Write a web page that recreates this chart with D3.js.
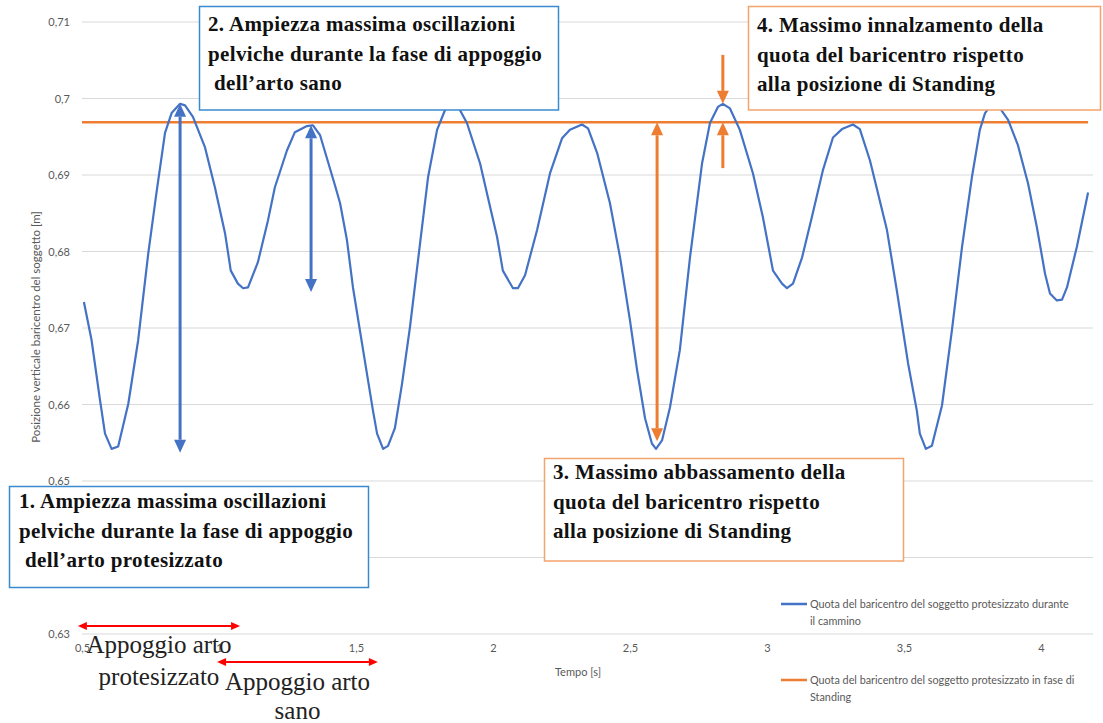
<!DOCTYPE html>
<html>
<head>
<meta charset="utf-8">
<script src="https://cdn.jsdelivr.net/npm/d3@7"></script>
<style>
  html, body { margin: 0; padding: 0; background: #fff; }
  svg { display: block; }
</style>
</head>
<body>
<svg id="chart" width="1103" height="723"></svg>
<script>
// Vertical position of the centre of mass during gait (prosthetic subject)
const times = [
  0.507, 0.535, 0.566, 0.584, 0.608, 0.632, 0.669, 0.705, 0.742, 0.773,
  0.803, 0.827, 0.858, 0.876, 0.905, 0.949, 0.985, 1.022, 1.043, 1.069,
  1.088, 1.106, 1.142, 1.179, 1.204, 1.248, 1.277, 1.321, 1.343, 1.369,
  1.423, 1.442, 1.467, 1.489, 1.526, 1.562, 1.577, 1.599, 1.617, 1.642,
  1.668, 1.697, 1.734, 1.763, 1.796, 1.825, 1.850, 1.872, 1.905, 1.953,
  1.978, 2.015, 2.036, 2.073, 2.091, 2.117, 2.161, 2.208, 2.252, 2.281,
  2.325, 2.347, 2.380, 2.427, 2.464, 2.500, 2.526, 2.555, 2.580, 2.595,
  2.617, 2.646, 2.682, 2.719, 2.763, 2.792, 2.821, 2.839, 2.865, 2.901,
  2.949, 2.985, 3.022, 3.055, 3.073, 3.095, 3.128, 3.164, 3.204, 3.241,
  3.274, 3.314, 3.339, 3.376, 3.438, 3.474, 3.515, 3.547, 3.558, 3.580,
  3.602, 3.639, 3.675, 3.712, 3.748, 3.777, 3.796, 3.821, 3.843, 3.861,
  3.880, 3.916, 3.953, 3.985, 4.015, 4.033, 4.058, 4.077, 4.095, 4.131,
  4.172
];
const heights = [
  0.6734, 0.6684, 0.6605, 0.6562, 0.6542, 0.6545, 0.6601, 0.6684, 0.6798, 0.6880,
  0.6955, 0.6981, 0.6993, 0.6991, 0.6976, 0.6936, 0.6884, 0.6824, 0.6775, 0.6758,
  0.6752, 0.6753, 0.6786, 0.6841, 0.6884, 0.6932, 0.6956, 0.6964, 0.6965, 0.6952,
  0.6887, 0.6863, 0.6815, 0.6753, 0.6671, 0.6592, 0.6562, 0.6542, 0.6546, 0.6569,
  0.6627, 0.6701, 0.6811, 0.6897, 0.6959, 0.6985, 0.6993, 0.6990, 0.6968, 0.6915,
  0.6876, 0.6819, 0.6775, 0.6752, 0.6752, 0.6769, 0.6828, 0.6902, 0.6948, 0.6959,
  0.6966, 0.6961, 0.6929, 0.6863, 0.6792, 0.6710, 0.6645, 0.6582, 0.6549, 0.6542,
  0.6553, 0.6596, 0.6671, 0.6792, 0.6915, 0.6968, 0.6989, 0.6993, 0.6987, 0.6959,
  0.6902, 0.6845, 0.6775, 0.6758, 0.6752, 0.6758, 0.6792, 0.6845, 0.6906, 0.6949,
  0.6960, 0.6966, 0.6960, 0.6919, 0.6828, 0.6749, 0.6654, 0.6592, 0.6562, 0.6542,
  0.6546, 0.6599, 0.6697, 0.6806, 0.6897, 0.6959, 0.6981, 0.6993, 0.6991, 0.6982,
  0.6972, 0.6939, 0.6889, 0.6832, 0.6771, 0.6745, 0.6736, 0.6737, 0.6753, 0.6806,
  0.6877
];
// Height of the centre of mass in the standing posture
const standingHeight = 0.6969;

const xTicks = [0.5, 1, 1.5, 2, 2.5, 3, 3.5, 4];
const yTicks = [0.63, 0.64, 0.65, 0.66, 0.67, 0.68, 0.69, 0.70, 0.71];

const seriesNames = [
  ["Quota del baricentro del soggetto protesizzato durante", "il cammino"],
  ["Quota del baricentro del soggetto protesizzato in fase di", "Standing"]
];

// Annotated excursions: [time, from, to]
const prostheticSwing = [0.858, 0.6993, 0.6537];
const soundSwing = [1.336, 0.6965, 0.6747];
const maxLowering = [2.599, standingHeight, 0.6552];
const maxRaising = [2.839, 0.7057, 0.6993, 0.6909];

// Stance phases [start, end] in seconds
const stanceProsthetic = [0.485, 1.077];
const stanceSound = [0.993, 1.580];

const boxTexts = {
  one: ["1. Ampiezza massima oscillazioni", "pelviche durante la fase di appoggio", " dell\u2019arto protesizzato"],
  two: ["2. Ampiezza massima oscillazioni", "pelviche durante la fase di appoggio", " dell\u2019arto sano"],
  three: ["3. Massimo abbassamento della", "quota del baricentro rispetto", "alla posizione di Standing"],
  four: ["4. Massimo innalzamento della", "quota del baricentro rispetto", "alla posizione di Standing"]
};

const BLUE = "#4472c4", ORANGE = "#ed7d31", GRID = "#d9d9d9", TICK = "#595959";
const BOX_BLUE = "#3a8ad0", BOX_ORANGE = "#f3a36c";

const svg = d3.select("#chart");
const x = d3.scaleLinear().domain([0.5, 4.19]).range([82, 1093]);
const y = d3.scaleLinear().domain([0.63, 0.71]).range([634, 22]);
const fmt = v => d3.format(".2~f")(v).replace(".", ",");
const sans = "Lato, 'Open Sans', sans-serif";

// Grid
svg.append("g")
  .selectAll("line").data(yTicks).join("line")
  .attr("x1", x.range()[0]).attr("x2", x.range()[1])
  .attr("y1", d => y(d)).attr("y2", d => y(d))
  .attr("stroke", GRID).attr("stroke-width", 1);

// Y axis labels
const yAxis = svg.append("g").attr("transform", "translate(72,0)")
  .call(d3.axisLeft(y).tickValues(yTicks).tickFormat(fmt).tickSize(0).tickPadding(2));
yAxis.select(".domain").remove();
yAxis.selectAll("text").attr("fill", TICK).attr("font-family", sans).attr("font-size", 11);

// X axis labels
const xAxis = svg.append("g").attr("transform", "translate(0,644)")
  .call(d3.axisBottom(x).tickValues(xTicks).tickFormat(fmt).tickSize(0).tickPadding(0));
xAxis.select(".domain").remove();
xAxis.selectAll("text").attr("fill", TICK).attr("font-family", sans).attr("font-size", 11);

// Axis titles
svg.append("text")
  .attr("transform", "translate(40,327) rotate(-90)")
  .attr("text-anchor", "middle")
  .attr("fill", TICK).attr("font-family", sans).attr("font-size", 11.5)
  .text("Posizione verticale baricentro del soggetto [m]");
svg.append("text")
  .attr("x", 578).attr("y", 676).attr("text-anchor", "middle")
  .attr("fill", TICK).attr("font-family", sans).attr("font-size", 11)
  .text("Tempo [s]");

// Standing reference line
svg.append("line")
  .attr("x1", x(0.5)).attr("x2", x(4.172))
  .attr("y1", y(standingHeight)).attr("y2", y(standingHeight))
  .attr("stroke", ORANGE).attr("stroke-width", 2.5);

// Walking curve
const points = times.map((t, i) => [t, heights[i]]);
svg.append("path")
  .datum(points)
  .attr("fill", "none").attr("stroke", BLUE).attr("stroke-width", 2.2)
  .attr("stroke-linejoin", "round")
  .attr("d", d3.line().x(d => x(d[0])).y(d => y(d[1])));

// Arrow helpers
function vArrow(g, xp, y0, y1, color, w, headW, headL, twoWay) {
  const dir = Math.sign(y1 - y0);
  const lineStart = twoWay ? y0 + dir * headL : y0;
  g.append("line").attr("x1", xp).attr("x2", xp)
    .attr("y1", lineStart).attr("y2", y1 - dir * headL)
    .attr("stroke", color).attr("stroke-width", w);
  const head = (tip, d) => g.append("path")
    .attr("d", `M${xp},${tip} L${xp - headW / 2},${tip - d * headL} L${xp + headW / 2},${tip - d * headL} Z`)
    .attr("fill", color);
  head(y1, dir);
  if (twoWay) head(y0, -dir);
}
function hArrow(g, x0, x1, yp, color, w, headW, headL) {
  g.append("line").attr("x1", x0 + headL).attr("x2", x1 - headL)
    .attr("y1", yp).attr("y2", yp).attr("stroke", color).attr("stroke-width", w);
  g.append("path").attr("d", `M${x0},${yp} L${x0 + headL},${yp - headW / 2} L${x0 + headL},${yp + headW / 2} Z`).attr("fill", color);
  g.append("path").attr("d", `M${x1},${yp} L${x1 - headL},${yp - headW / 2} L${x1 - headL},${yp + headW / 2} Z`).attr("fill", color);
}

const ann = svg.append("g");
vArrow(ann, x(prostheticSwing[0]), y(prostheticSwing[1]), y(prostheticSwing[2]), BLUE, 3, 12, 13, true);
vArrow(ann, x(soundSwing[0]), y(soundSwing[1]), y(soundSwing[2]), BLUE, 3, 12, 13, true);
vArrow(ann, x(maxLowering[0]), y(maxLowering[1]), y(maxLowering[2]), ORANGE, 3, 12, 13, true);
vArrow(ann, x(maxRaising[0]), y(maxRaising[1]), y(maxRaising[2]), ORANGE, 3, 12, 13, false);
vArrow(ann, x(maxRaising[0]), y(maxRaising[3]), y(standingHeight), ORANGE, 3, 12, 13, false);

// Stance phase arrows and labels
const base = y(0.63);
hArrow(ann, x(stanceProsthetic[0]), x(stanceProsthetic[1]), base - 8, "#ff0000", 2, 8, 9);
hArrow(ann, x(stanceSound[0]), x(stanceSound[1]), base + 28, "#ff0000", 2, 8, 9);
const serif = "'Liberation Serif', 'Times New Roman', serif";
const stanceLabel = (cx, y0, lines, gap) => {
  const t = ann.append("text").attr("text-anchor", "middle")
    .attr("font-family", serif).attr("font-size", 25).attr("fill", "#222");
  lines.forEach((s, i) => t.append("tspan").attr("x", cx).attr("y", y0 + i * gap).text(s));
};
stanceLabel(x((stanceProsthetic[0] + stanceProsthetic[1]) / 2), base + 19, ["Appoggio arto", "protesizzato"], 32);
stanceLabel(x((stanceSound[0] + stanceSound[1]) / 2), base + 56, ["Appoggio arto", "sano"], 29);

// Text boxes
function box(x0, y0, w, h, stroke, lines, tx, ty) {
  const g = svg.append("g");
  g.append("rect").attr("x", x0).attr("y", y0).attr("width", w).attr("height", h)
    .attr("fill", "#fff").attr("stroke", stroke).attr("stroke-width", 1.5);
  const t = g.append("text").attr("font-family", serif).attr("font-weight", "bold")
    .attr("font-size", 21).attr("letter-spacing", 0.35).attr("fill", "#111");
  lines.forEach((s, i) => t.append("tspan").attr("x", tx + (s.startsWith(" ") ? 6 : 0))
    .attr("y", ty + i * 29.5).text(s.trim()));
}
box(199.5, 6.5, 359, 103.5, BOX_BLUE, boxTexts.two, 208, 31);
box(748.5, 6.5, 352, 103.5, BOX_ORANGE, boxTexts.four, 757, 32);
box(544.5, 458.5, 359, 102.5, BOX_ORANGE, boxTexts.three, 553, 479);
box(9.5, 486.5, 359, 101, BOX_BLUE, boxTexts.one, 19, 508);

// Legend
const legend = svg.append("g").attr("font-family", sans)
  .attr("font-size", 10.8).attr("fill", TICK);
[[BLUE, 604], [ORANGE, 680]].forEach(([c, ly], i) => {
  legend.append("line").attr("x1", 781).attr("x2", 807).attr("y1", ly).attr("y2", ly)
    .attr("stroke", c).attr("stroke-width", 2.5);
  seriesNames[i].forEach((s, j) => legend.append("text")
    .attr("x", 810).attr("y", ly + 4 + j * 17).text(s));
});
</script>
</body>
</html>
